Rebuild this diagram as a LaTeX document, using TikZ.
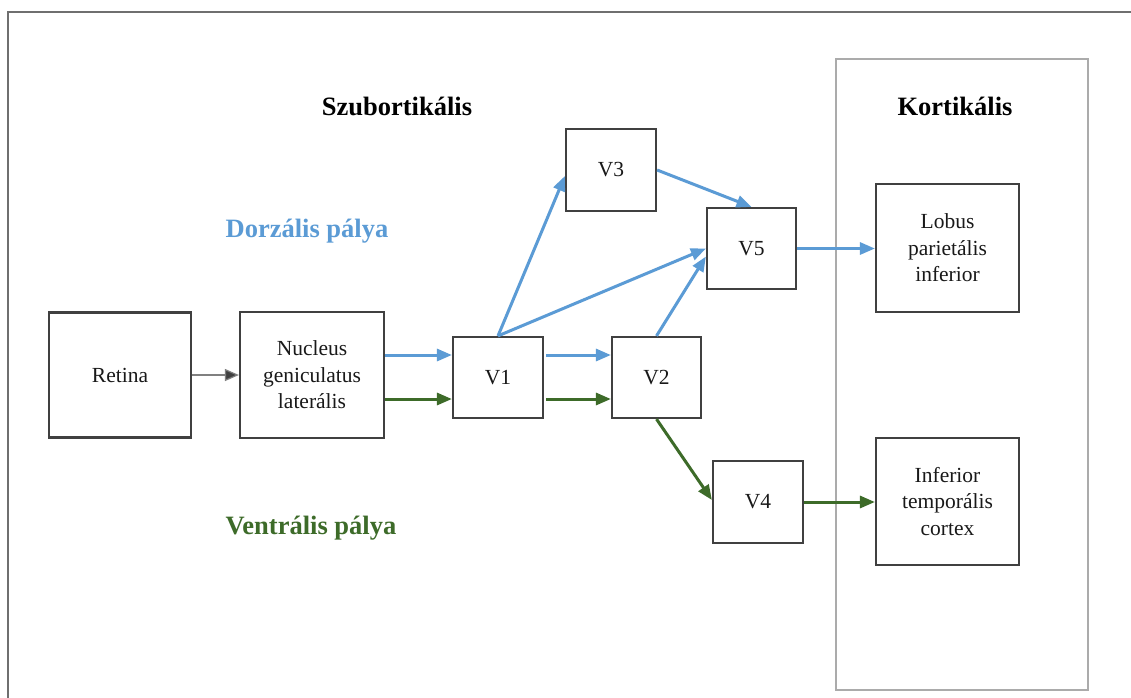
\documentclass[tikz,border=0pt]{standalone}
\usepackage{fontspec}
\setmainfont{Liberation Serif}
\usetikzlibrary{arrows.meta}
\definecolor{dblue}{HTML}{5B9BD5}
\definecolor{vgreen}{HTML}{3D6B29}
\definecolor{boxgray}{HTML}{404040}
\definecolor{framegray}{HTML}{6F6F6F}
\definecolor{cortgray}{HTML}{ABABAB}
\tikzset{
  blk/.style={draw=boxgray, line width=2.2pt, fill=white, inner sep=0pt, align=center,
    font=\fontsize{21.5}{26.5}\selectfont, text=black!90},
  head/.style={font=\fontsize{26.5}{30}\selectfont\bfseries, inner sep=0pt},
  bluearr/.style={draw=dblue, line width=3pt, -{Triangle[length=15pt 0 0,width=12pt 0 0]}},
  greenarr/.style={draw=vgreen, line width=3pt, -{Triangle[length=15pt 0 0,width=12pt 0 0]}},
  grayarr/.style={draw=black!50, line width=1.2pt, -{Triangle[length=14pt 0 0,width=12pt 0 0,fill=boxgray]}},
}
\begin{document}
\begin{tikzpicture}[x=1pt,y=-1pt]
\useasboundingbox (0,0) rectangle (1131,697);
\fill[white] (0,0) rectangle (1131,697);
% outer frame (cropped)
\draw[framegray, line width=2.2pt] (8,710) -- (8,12) -- (1145,12);
% cortical region
\draw[cortgray, line width=2.2pt] (836,59) rectangle (1088,690);
% headings
\node[head] (sub) at (397,106) {Szubortikális};
\node[head] (kort) at (955,106) {Kortikális};
\node[head, text=dblue] (dors) at (307,231) {Dorzális pálya};
\node[head, text=vgreen] (vent) at (311,528) {Ventrális pálya};
% boxes
\node[blk, minimum width=142pt, minimum height=125pt] (ret) at (120,375) {Retina};
\node[blk, minimum width=144pt, minimum height=126pt] (ngl) at (312,375) {Nucleus\\geniculatus\\laterális};
\node[blk, minimum width=90pt, minimum height=81pt] (v1) at (498,377.5) {V1};
\node[blk, minimum width=89pt, minimum height=81pt] (v2) at (656.5,377.5) {V2};
\node[blk, minimum width=90pt, minimum height=82pt] (v3) at (611,170) {V3};
\node[blk, minimum width=89pt, minimum height=81pt] (v5) at (751.5,248.5) {V5};
\node[blk, minimum width=90pt, minimum height=82pt] (v4) at (758,502) {V4};
\node[blk, minimum width=143pt, minimum height=128pt] (lob) at (947.5,248) {Lobus\\parietális\\inferior};
\node[blk, minimum width=143pt, minimum height=127pt] (inf) at (947.5,501.5) {Inferior\\temporális\\cortex};
% helper levels
\coordinate (yb) at (0,355);
\coordinate (yg) at (0,399);
% connectors
\draw[grayarr] (ret.east) -- (ngl.west);
\draw[bluearr] (ngl.east |- yb) -- (v1.west |- yb);
\draw[greenarr] (ngl.east |- yg) -- (v1.west |- yg);
\draw[bluearr] ([xshift=2pt]v1.east |- yb) -- (v2.west |- yb);
\draw[greenarr] ([xshift=2pt]v1.east |- yg) -- (v2.west |- yg);
\draw[bluearr] (v1.north) -- ([yshift=-6pt]v3.west);
\draw[bluearr] (v1.north) -- (v5.west);
\draw[bluearr] (v2.north) -- ([yshift=-8pt]v5.west);
\draw[bluearr] (v3.east) -- (v5.north);
\draw[bluearr] (v5.east) -- (lob.west |- v5.east);
\draw[greenarr] (v2.south) -- ([yshift=2pt]v4.west);
\draw[greenarr] (v4.east) -- (inf.west |- v4.east);
\end{tikzpicture}
\end{document}
